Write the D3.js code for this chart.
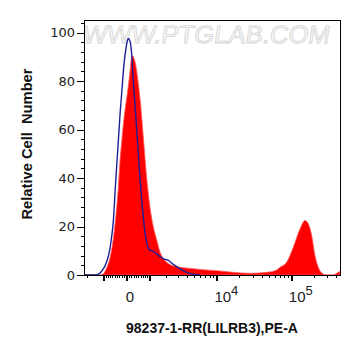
<!DOCTYPE html>
<html><head><meta charset="utf-8">
<script src="https://cdn.jsdelivr.net/npm/d3@7"></script>
<style>body{margin:0;background:#fff}svg{display:block}</style>
</head><body>
<svg id="c" width="361" height="356"></svg>
<script>
// ---------- data ----------
const sampleX = [-2216,-1199,-1027,-860,-706,-557,-410,-341,-270,-199,-132,-62,8,75,145,186,241,283,397,496,602,720,880,1042,1214,1403,1600,1926,2294,2867,3542,4843,5952,9934,16537,27690,46483,63423,70286,86590,106343,131084,153247,169893,188835,209326,232057,258116,301740,370850,412419,457000];
const sampleY = [0,0,0.5,3,7,15,28,36,47,55,62,68,73,78,84,88,90.5,90,86,79,70,57,40,28,20,14.5,9.5,6,4.3,3.4,3.0,2.6,2.3,1.8,1.1,0.7,1.1,2.1,3.2,5.3,11.5,19,22.5,21.1,16.3,8,3.2,0.8,0,0,0.7,1.5];
const controlX = [-2216,-1381,-1199,-1027,-860,-706,-629,-557,-483,-410,-341,-270,-199,-103,-21,33,75,145,216,283,355,427,496,571,647,720,799,880,958,1042,1214,1403,1600,1811,2164,2564,3190,3943,4843,5952];
const controlY = [0,0,0.8,2.5,5.5,11,16,22,33.8,45,55,66,75,87,93.5,96.5,97.6,96.5,91,80,70,60,50,40,31,24,17.5,13.5,11,10.3,9.8,8.7,7.6,6.8,6,4.4,2.6,1.1,0.3,0];
const xDomain = [-2216, 457000];
const yDomain = [0, 105];
const yMajorTicks = [0,20,40,60,80,100];
const yMinorTicks = [4,8,12,16,24,28,32,36,44,48,52,56,64,68,72,76,84,88,92,96,104];
const xMajorTicks = [-1000,0,1000,10000,100000];
const xMinorTicks = [-2000,-900,-800,-700,-600,-500,-400,-300,-200,-100,100,200,300,400,500,600,700,800,900,
  2000,3000,4000,5000,6000,7000,8000,9000,20000,30000,40000,50000,60000,70000,80000,90000,200000,300000,400000];
const xLabelValues = [0, 10000, 100000];
const xLabelBase = ["0", "10", "10"];
const xLabelExp = ["", "4", "5"];
const xTitle = "98237-1-RR(LILRB3),PE-A";
const yTitle = "Relative Cell  Number";
const watermark = "WWW.PTGLAB.COM";

// ---------- biexponential (logicle-like) display transform ----------
const LG_P = 1.3, LG_K = 574;
function lgForward(u){
  const a = Math.abs(u);
  const g = Math.pow(10,a) - LG_P*LG_P*Math.pow(10,-a/LG_P) + LG_P*LG_P - 1;
  return Math.sign(u)*LG_K*g;
}
function lgU(x){
  const t = Math.abs(x); let lo = 0, hi = 7;
  for (let i=0;i<60;i++){ const m=(lo+hi)/2; if (lgForward(m) < t) lo = m; else hi = m; }
  return Math.sign(x)*(lo+hi)/2;
}

// ---------- layout ----------
const W = 361, H = 356;
const m = {left:84, right:21, top:20.5, bottom:81};
const svg = d3.select("#c");
const xs = d3.scaleLinear().domain(xDomain.map(lgU)).range([m.left, W-m.right]);
const ys = d3.scaleLinear().domain(yDomain).range([H-m.bottom, m.top]);

svg.append("defs").append("clipPath").attr("id","clip")
  .append("rect").attr("x",m.left).attr("y",m.top)
  .attr("width",W-m.left-m.right).attr("height",H-m.top-m.bottom);

// watermark
svg.append("text")
  .attr("x", 88).attr("y", 43)
  .attr("textLength", 247).attr("lengthAdjust","spacingAndGlyphs")
  .attr("font-family","Liberation Sans, Arial, sans-serif")
  .attr("font-size", 25)
  .attr("fill","#fbfbfb").attr("stroke","#d2d2d2").attr("stroke-width",0.8)
  .attr("transform","translate(6,0) skewX(-8) translate(-6,0)")
  .text(watermark);

const sample = sampleX.map((v,i)=>({x:v,y:sampleY[i]}));
const control = controlX.map((v,i)=>({x:v,y:controlY[i]}));

const plot = svg.append("g").attr("clip-path","url(#clip)");
plot.append("path").datum(sample)
  .attr("fill","#ff0000").attr("stroke","#ff6060").attr("stroke-width",0.8)
  .attr("d", d3.area().curve(d3.curveMonotoneX)
    .x(d=>xs(lgU(d.x))).y0(ys(0)).y1(d=>ys(d.y)));
plot.append("path").datum(control)
  .attr("fill","none").attr("stroke","#1e1e96").attr("stroke-width",1.4)
  .attr("d", d3.line().curve(d3.curveMonotoneX)
    .x(d=>xs(lgU(d.x))).y(d=>ys(d.y)));

// frame
svg.append("rect").attr("x",m.left).attr("y",m.top)
  .attr("width",W-m.left-m.right).attr("height",H-m.top-m.bottom)
  .attr("fill","none").attr("stroke","#000").attr("stroke-width",1)
  .attr("shape-rendering","crispEdges");

// y axis
const gy = svg.append("g").attr("transform",`translate(${m.left},0)`).attr("shape-rendering","crispEdges");
gy.call(d3.axisLeft(ys).tickValues(yMajorTicks).tickSize(7).tickSizeOuter(0).tickPadding(2)
  .tickFormat(d3.format("d")));
gy.append("g").call(d3.axisLeft(ys).tickValues(yMinorTicks).tickSize(3.5).tickSizeOuter(0).tickFormat(""));
gy.selectAll(".domain").remove();
gy.selectAll("text").attr("font-family","DejaVu Sans, sans-serif").attr("font-size",13).attr("fill","#222");

// x axis
const gx = svg.append("g").attr("transform",`translate(0,${H-m.bottom})`).attr("shape-rendering","crispEdges");
gx.call(d3.axisBottom(xs).tickValues(xMajorTicks.map(lgU)).tickSize(6).tickSizeOuter(0).tickFormat(""));
gx.selectAll(".tick line").attr("stroke-width",2);
gx.append("g").call(d3.axisBottom(xs).tickValues(xMinorTicks.map(lgU)).tickSize(3).tickSizeOuter(0).tickFormat(""));
gx.selectAll(".domain").remove();

// x tick labels
const lab = svg.append("g").attr("font-family","Liberation Sans, Arial, sans-serif").attr("fill","#222");
xLabelValues.forEach((v,i)=>{
  const px = xs(lgU(v));
  const t = lab.append("text").attr("y", 302).attr("font-size",15);
  if (xLabelExp[i]) {
    t.attr("x", px-2.5).attr("text-anchor","start");
    t.append("tspan").text(xLabelBase[i]);
    t.append("tspan").attr("dy",-7).attr("font-size",13).text(xLabelExp[i]);
  } else {
    t.attr("x", px+3.5).attr("text-anchor","middle").text(xLabelBase[i]);
  }
});

// titles
svg.append("text").attr("x", 212).attr("y", 333).attr("text-anchor","middle")
  .attr("font-family","Liberation Sans, Arial, sans-serif").attr("font-weight","bold")
  .attr("font-size",14).attr("fill","#111").text(xTitle);
svg.append("text").attr("transform","translate(32,144) rotate(-90)").attr("text-anchor","middle")
  .attr("font-family","Liberation Sans, Arial, sans-serif").attr("font-weight","bold")
  .attr("font-size",14.7).attr("fill","#111").style("white-space","pre").text(yTitle);
</script>
</body></html>
